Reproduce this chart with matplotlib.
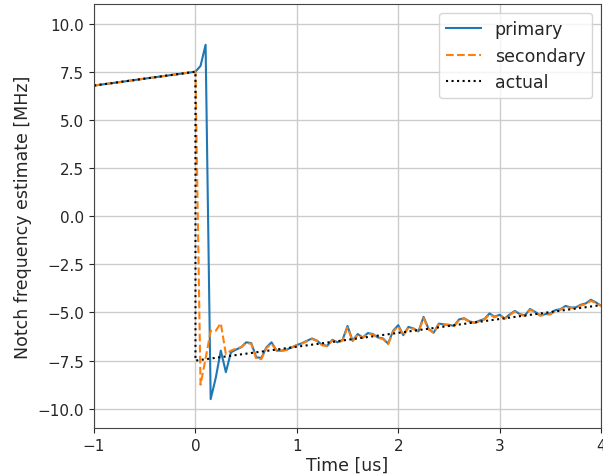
import numpy as np
import matplotlib
matplotlib.use("Agg")
import matplotlib.pyplot as plt

# Time before the step (us) and estimates over that span
time_pre = [-1.0, 0.0]
primary_pre = [6.78, 7.50]
secondary_pre = [6.78, 7.50]

# Estimates after the step, sampled every 0.05 us from 0.05 to 4.0 us
time_post = np.linspace(0.05, 4.0, 80)
primary_post = [
    7.80, 8.90, -9.50, -8.40, -6.98, -8.10, -7.07, -6.93, -6.81, -6.55,
    -6.59, -7.33, -7.36, -6.81, -6.55, -6.98, -6.98, -6.93, -6.81, -6.69,
    -6.60, -6.47, -6.35, -6.47, -6.69, -6.73, -6.42, -6.55, -6.43, -5.70,
    -6.47, -6.12, -6.30, -6.07, -6.12, -6.30, -6.35, -6.62, -5.95, -5.66,
    -6.18, -5.75, -5.83, -5.98, -5.23, -5.86, -6.05, -5.58, -5.62, -5.64,
    -5.70, -5.36, -5.30, -5.46, -5.53, -5.43, -5.34, -5.05, -5.22, -5.12,
    -5.31, -5.10, -4.92, -5.09, -5.15, -4.82, -4.97, -5.15, -5.09, -5.05,
    -4.88, -4.83, -4.66, -4.74, -4.74, -4.60, -4.53, -4.34, -4.48, -4.65,
]
secondary_post = [
    -8.75, -7.40, -5.95, -5.95, -5.56, -7.16, -6.98, -6.88, -6.80, -6.60,
    -6.62, -7.42, -7.42, -6.85, -6.62, -6.98, -7.00, -6.95, -6.83, -6.70,
    -6.62, -6.50, -6.38, -6.48, -6.70, -6.75, -6.45, -6.57, -6.47, -5.78,
    -6.50, -6.15, -6.32, -6.10, -6.15, -6.32, -6.38, -6.65, -6.00, -5.72,
    -6.20, -5.78, -5.86, -6.00, -5.30, -5.88, -6.07, -5.62, -5.65, -5.66,
    -5.72, -5.40, -5.33, -5.48, -5.55, -5.46, -5.37, -5.10, -5.25, -5.15,
    -5.33, -5.13, -4.96, -5.12, -5.18, -4.86, -5.00, -5.17, -5.12, -5.10,
    -4.93, -4.86, -4.70, -4.77, -4.77, -4.64, -4.57, -4.40, -4.52, -4.66,
]

# True notch frequency: linear drift with a step at t = 0
time_actual = [-1.0, 0.0, 0.0, 4.0]
actual = [6.78, 7.50, -7.50, -4.62]

x_ticks = [-1, 0, 1, 2, 3, 4]
y_ticks = [-10.0, -7.5, -5.0, -2.5, 0.0, 2.5, 5.0, 7.5, 10.0]

time_primary = np.concatenate([time_pre, time_post])
primary = np.concatenate([primary_pre, primary_post])
time_secondary = np.concatenate([time_pre, time_post])
secondary = np.concatenate([secondary_pre, secondary_post])

fig = plt.figure(figsize=(6.03, 4.77), dpi=100)
ax = fig.add_axes([0.156, 0.1006, 0.8407, 0.8883])

ax.plot(time_primary, primary, color="#1f77b4", lw=1.5, label="primary")
ax.plot(time_secondary, secondary, color="#ff7f0e", lw=1.5, ls="--", label="secondary")
ax.plot(time_actual, actual, color="black", lw=1.5, ls=":", label="actual")

ax.set_xlim(-1, 4)
ax.set_ylim(-11, 11)
ax.set_xticks(x_ticks)
ax.set_yticks(y_ticks)
ax.grid(True, color="#cccccc", lw=1.0)
ax.set_axisbelow(True)
ax.tick_params(labelsize=11, colors="#262626")
for s in ax.spines.values():
    s.set_color("#444444")

ax.set_xlabel("Time [us]", fontsize=12.5, color="#262626", labelpad=2)
ax.set_ylabel("Notch frequency estimate [MHz]", fontsize=12.5, color="#262626", labelpad=4)
leg = ax.legend(loc="upper right", fontsize=12.5)
for txt in leg.get_texts():
    txt.set_color("#262626")

fig.savefig("out.png", dpi=100)
